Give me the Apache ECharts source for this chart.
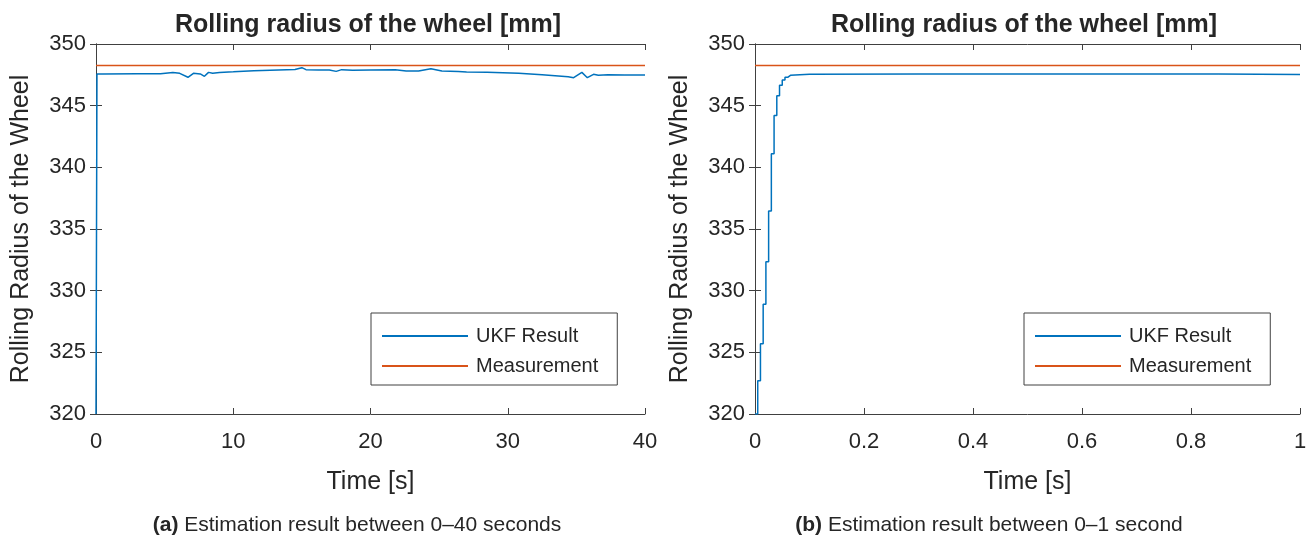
<!DOCTYPE html>
<html>
<head>
<meta charset="utf-8">
<script src="https://cdn.jsdelivr.net/npm/echarts@6/dist/echarts.min.js"></script>
<style>
html,body{margin:0;padding:0;background:#fff;}
#chart{width:1310px;height:539px;}
</style>
</head>
<body>
<div id="chart"></div>
<script>
// ---- Data ----
const plotTitle = 'Rolling radius of the wheel [mm]';
const yAxisName = 'Rolling Radius of the Wheel';
const xAxisName = 'Time [s]';
const seriesNames = ['UKF Result', 'Measurement'];
const captionA = ['(a)', 'Estimation result between 0–40 seconds'];
const captionB = ['(b)', 'Estimation result between 0–1 second'];

// Panel (a): 0–40 s
const timeA = [0, 0.07, 0.5, 3, 4.7, 5.6, 6.1, 6.7, 7.1, 7.6, 7.9, 8.2, 8.5, 9.0, 10, 11.5, 13.3, 14.5, 15.0, 15.3,
  16.2, 17.0, 17.5, 17.9, 18.7, 20, 21.8, 22.6, 23.5, 24.4, 25.2, 26.4, 27.0, 28.5, 30.8, 32.5, 34.4, 34.8, 35.4, 35.8,
  36.25, 36.6, 37.3, 38.5, 39.7, 40];
const ukfA = [320, 347.57, 347.57, 347.58, 347.58, 347.68, 347.62, 347.3, 347.62, 347.57, 347.38, 347.7, 347.62, 347.68, 347.74, 347.84, 347.9, 347.93, 348.08, 347.92,
  347.9, 347.9, 347.78, 347.92, 347.87, 347.9, 347.92, 347.81, 347.81, 348.0, 347.81, 347.78, 347.73, 347.7, 347.62, 347.5, 347.35, 347.27, 347.7, 347.27,
  347.54, 347.46, 347.5, 347.49, 347.49, 347.49];
const measTimeA = [0, 40];
const measA = [348.25, 348.25];

// Panel (b): 0–1 s (step output, 5 ms samples)
const timeB = [0, 0.005, 0.010, 0.015, 0.020, 0.025, 0.030, 0.035, 0.040, 0.045, 0.050, 0.055, 0.060, 0.065,
  0.1, 0.3, 0.5, 0.7, 0.85, 1];
const ukfB = [320, 322.7, 325.7, 328.9, 332.35, 336.45, 341.1, 344.2, 345.8, 346.65, 347.08, 347.3, 347.46, 347.54,
  347.56, 347.57, 347.57, 347.56, 347.52, 347.52];
const measTimeB = [0, 1];
const measB = [348.25, 348.25];

// Axis ticks
const yMin = 320, yMax = 350, yStep = 5;
const xMinA = 0, xMaxA = 40, xStepA = 10;
const xMinB = 0, xMaxB = 1, xStepB = 0.2;

// ---- Styles ----
const TXT = '#262626';
const AX = '#404040';
const BLUE = '#0072BD';
const ORANGE = '#D95319';
const FONT = '"Liberation Sans", Arial, Helvetica, sans-serif';

const zip = (xs, ys) => xs.map((x, i) => [x, ys[i]]);

function xAxes(gi, mn, mx, st) {
  return [
    {
      type: 'value', gridIndex: gi, min: mn, max: mx, interval: st, position: 'bottom',
      name: xAxisName, nameLocation: 'middle', nameGap: 56,
      nameTextStyle: {color: TXT, fontSize: 25, fontFamily: FONT},
      axisLine: {show: true, lineStyle: {color: AX, width: 1}},
      axisTick: {show: true, inside: true, length: 6, lineStyle: {color: AX}},
      axisLabel: {color: TXT, fontSize: 22, fontFamily: FONT, margin: 17,
        formatter: v => String(+v.toFixed(4))},
      splitLine: {show: false}
    },
    {
      type: 'value', gridIndex: gi, min: mn, max: mx, interval: st, position: 'top',
      axisLine: {show: true, lineStyle: {color: AX, width: 1}},
      axisTick: {show: true, inside: true, length: 6, lineStyle: {color: AX}},
      axisLabel: {show: false}, splitLine: {show: false}
    }
  ];
}
function yAxes(gi) {
  return [
    {
      type: 'value', gridIndex: gi, min: yMin, max: yMax, interval: yStep, position: 'left',
      name: yAxisName, nameLocation: 'middle', nameGap: 62,
      nameTextStyle: {color: TXT, fontSize: 25, fontFamily: FONT},
      axisLine: {show: true, lineStyle: {color: AX, width: 1}},
      axisTick: {show: true, inside: true, length: 6, lineStyle: {color: AX}},
      axisLabel: {color: TXT, fontSize: 22, fontFamily: FONT, margin: 10},
      splitLine: {show: false}
    },
    {
      type: 'value', gridIndex: gi, min: yMin, max: yMax, interval: yStep, position: 'right',
      axisLine: {show: true, lineStyle: {color: AX, width: 1}},
      axisTick: {show: true, inside: true, length: 6, lineStyle: {color: AX}},
      axisLabel: {show: false}, splitLine: {show: false}
    }
  ];
}
function legendAt(left, top) {
  return {
    left: left, top: top, orient: 'vertical',
    data: seriesNames,
    backgroundColor: '#fff', borderColor: AX, borderWidth: 1,
    padding: [13, 19, 9, 10],
    itemWidth: 86, itemHeight: 20, itemGap: 10,
    itemStyle: {opacity: 0},
    textStyle: {color: TXT, fontSize: 20, fontFamily: FONT, padding: [0, 0, 0, 3]},
    selectedMode: false
  };
}
function titleAt(cx, cy, text, rich) {
  return {
    text: text, left: cx, top: cy, padding: 0, textAlign: 'center', textVerticalAlign: 'middle',
    textStyle: rich
  };
}
const plotTitleStyle = {color: TXT, fontSize: 25, fontWeight: 'bold', fontFamily: FONT};
const capStyle = {
  color: TXT, fontSize: 21, fontFamily: FONT, fontWeight: 'normal',
  rich: {
    b: {color: TXT, fontSize: 21, fontFamily: FONT, fontWeight: 'bold'},
    n: {color: TXT, fontSize: 21, fontFamily: FONT}
  }
};

const option = {
  backgroundColor: '#fff',
  animation: false,
  title: [
    titleAt(368, 25, plotTitle, plotTitleStyle),
    titleAt(1024, 25, plotTitle, plotTitleStyle),
    titleAt(357, 525, '{b|' + captionA[0] + '} {n|' + captionA[1] + '}', capStyle),
    titleAt(989, 525, '{b|' + captionB[0] + '} {n|' + captionB[1] + '}', capStyle)
  ],
  legend: [legendAt(371, 313), legendAt(1024, 313)],
  grid: [
    {left: 96, top: 44, width: 549, height: 370},
    {left: 755, top: 44, width: 545, height: 370}
  ],
  xAxis: [...xAxes(0, xMinA, xMaxA, xStepA), ...xAxes(1, xMinB, xMaxB, xStepB)],
  yAxis: [...yAxes(0), ...yAxes(1)],
  series: [
    {name: seriesNames[0], type: 'line', xAxisIndex: 0, yAxisIndex: 0, data: zip(timeA, ukfA),
      symbol: 'none', lineStyle: {color: BLUE, width: 1.5}, itemStyle: {color: BLUE}, z: 3},
    {name: seriesNames[1], type: 'line', xAxisIndex: 0, yAxisIndex: 0, data: zip(measTimeA, measA),
      symbol: 'none', lineStyle: {color: ORANGE, width: 1.5}, itemStyle: {color: ORANGE}, z: 2},
    {name: seriesNames[0], type: 'line', xAxisIndex: 2, yAxisIndex: 2, data: zip(timeB, ukfB), step: 'end',
      symbol: 'none', lineStyle: {color: BLUE, width: 1.5}, itemStyle: {color: BLUE}, z: 3},
    {name: seriesNames[1], type: 'line', xAxisIndex: 2, yAxisIndex: 2, data: zip(measTimeB, measB),
      symbol: 'none', lineStyle: {color: ORANGE, width: 1.5}, itemStyle: {color: ORANGE}, z: 2}
  ]
};

const chart = echarts.init(document.getElementById('chart'), null, {renderer: 'canvas'});
chart.setOption(option);
</script>
</body>
</html>
